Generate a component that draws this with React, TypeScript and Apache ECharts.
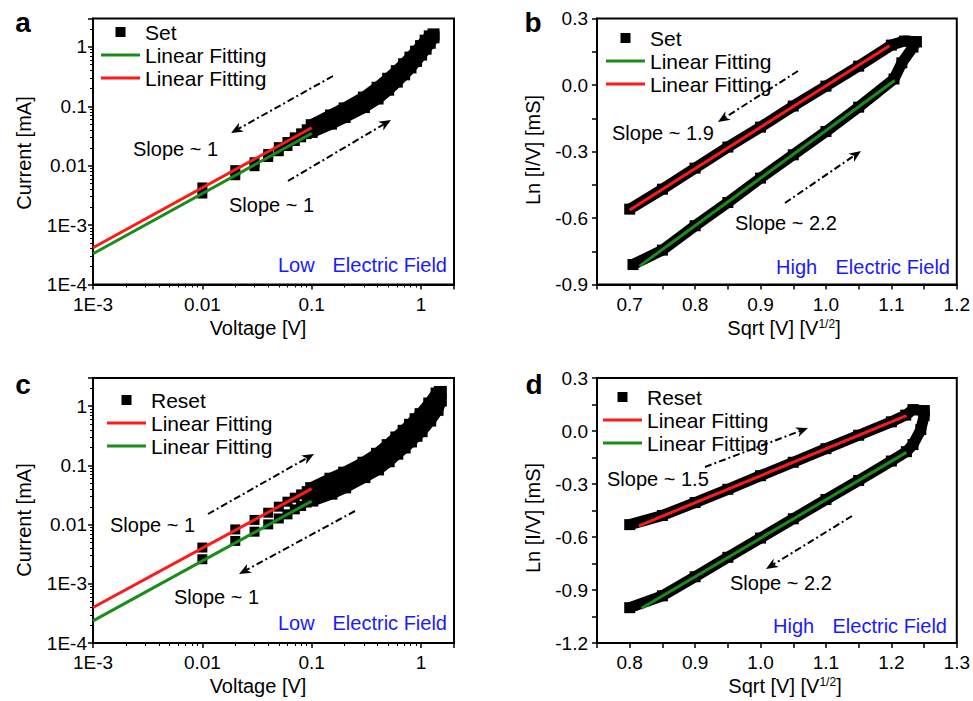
import { useEffect, useRef } from 'react';
import * as echarts from 'echarts';

const FONT = '"Liberation Sans", Arial, Helvetica, sans-serif';
const BLACK = '#000000';
const RED = '#ff1a1a';
const GREEN = '#1a8c1a';
const BLUE = '#1a1aff';

// ---------- tick labels ----------
const logTickValues = [1e-4, 1e-3, 0.01, 0.1, 1];
const logTickLabels = ['1E-4', '1E-3', '0.01', '0.1', '1'];
const bXTickLabels = ['0.7', '0.8', '0.9', '1.0', '1.1', '1.2'];
const bYTickLabels = ['0.3', '0.0', '-0.3', '-0.6', '-0.9'];
const dXTickLabels = ['0.8', '0.9', '1.0', '1.1', '1.2', '1.3'];
const dYTickLabels = ['0.3', '0.0', '-0.3', '-0.6', '-0.9', '-1.2'];

// ---------- legend labels ----------
const legendLabelsA = ['Set', 'Linear Fitting', 'Linear Fitting'];
const legendLabelsB = ['Set', 'Linear Fitting', 'Linear Fitting'];
const legendLabelsC = ['Reset', 'Linear Fitting', 'Linear Fitting'];
const legendLabelsD = ['Reset', 'Linear Fitting', 'Linear Fitting'];

// ---------- panel a : Set, low field (V, mA) ----------
const aLowV = [0.01, 0.02, 0.03, 0.04, 0.05, 0.06, 0.07, 0.08, 0.09];
const aLowUpperI = [0.0043, 0.0084, 0.0114, 0.0157, 0.0205, 0.025, 0.03, 0.035, 0.041];
const aLowLowerI = [0.0034, 0.0069, 0.0098, 0.014, 0.0175, 0.0214, 0.026, 0.03, 0.034];
const aBandV = [0.1, 0.15, 0.2, 0.3, 0.4, 0.5, 0.6, 0.7, 0.8, 0.9, 1.0, 1.1, 1.2, 1.3];
const aBandUpperI = [0.048, 0.07, 0.092, 0.14, 0.205, 0.29, 0.39, 0.51, 0.66, 0.83, 1.03, 1.27, 1.5, 1.62];
const aBandLowerI = [0.037, 0.051, 0.066, 0.097, 0.135, 0.19, 0.26, 0.345, 0.45, 0.58, 0.74, 0.93, 1.17, 1.45];
const aFitV = [0.001, 0.1];
const aFitGreenI = [3.3e-4, 0.0349];
const aFitRedI = [4.16e-4, 0.0435];

// ---------- panel c : Reset, low field ----------
const cLowV = [0.01, 0.02, 0.03, 0.04, 0.05, 0.06, 0.07, 0.08, 0.09];
const cLowUpperI = [0.0041, 0.0083, 0.012, 0.0159, 0.0201, 0.0244, 0.0285, 0.0324, 0.0368];
const cLowLowerI = [0.0026, 0.0053, 0.0076, 0.0101, 0.0127, 0.0149, 0.0181, 0.0206, 0.0236];
const cBandV = [0.1, 0.15, 0.2, 0.3, 0.4, 0.5, 0.6, 0.7, 0.8, 0.9, 1.0, 1.2, 1.4, 1.5];
const cBandUpperI = [0.0405, 0.0585, 0.074, 0.109, 0.154, 0.216, 0.291, 0.377, 0.476, 0.592, 0.72, 1.09, 1.61, 1.71];
const cBandLowerI = [0.026, 0.034, 0.0434, 0.0648, 0.0873, 0.12, 0.161, 0.205, 0.259, 0.323, 0.386, 0.585, 0.887, 1.27];
const cFitV = [0.001, 0.1];
const cFitRedI = [3.98e-4, 0.0405];
const cFitGreenI = [2.37e-4, 0.025];

// ---------- panel b : Set, high field (sqrt V, ln I/V) ----------
const bUpperX = [0.7, 0.75, 0.8, 0.85, 0.9, 0.95, 1.0, 1.05, 1.1, 1.12, 1.138];
const bUpperY = [-0.56, -0.47, -0.375, -0.28, -0.19, -0.095, -0.005, 0.085, 0.18, 0.198, 0.195];
const bLowerX = [0.705, 0.75, 0.8, 0.85, 0.9, 0.95, 1.0, 1.05, 1.104, 1.116, 1.133, 1.138];
const bLowerY = [-0.81, -0.745, -0.635, -0.53, -0.42, -0.315, -0.21, -0.1, 0.027, 0.1, 0.171, 0.195];
const bFitGreenX = [0.715, 1.105];
const bFitGreenY = [-0.817, 0.02];
const bFitRedX = [0.7, 1.097];
const bFitRedY = [-0.564, 0.177];

// ---------- panel d : Reset, high field ----------
const dUpperX = [0.8, 0.85, 0.9, 0.95, 1.0, 1.05, 1.1, 1.15, 1.2, 1.222, 1.233, 1.25];
const dUpperY = [-0.53, -0.478, -0.405, -0.33, -0.253, -0.177, -0.1, -0.024, 0.052, 0.09, 0.121, 0.115];
const dLowerX = [0.8, 0.85, 0.9, 0.95, 1.0, 1.05, 1.1, 1.15, 1.2, 1.223, 1.233, 1.245, 1.25, 1.25];
const dLowerY = [-1.0, -0.933, -0.825, -0.715, -0.606, -0.497, -0.388, -0.28, -0.17, -0.117, -0.077, 0.008, 0.087, 0.115];
const dFitRedX = [0.814, 1.223];
const dFitRedY = [-0.537, 0.087];
const dFitGreenX = [0.818, 1.223];
const dFitGreenY = [-1.003, -0.121];

const pairs = (xs: number[], ys: number[]) => xs.map((x, i) => [x, ys[i]]);

const logFmt = (v: number) => {
  const i = logTickValues.findIndex((t) => Math.abs(Math.log10(v) - Math.log10(t)) < 1e-6);
  return i >= 0 ? logTickLabels[i] : '';
};
const linFmt = (labels: string[]) => (v: number) => {
  const s = Math.abs(v) < 1e-9 ? '0.0' : v.toFixed(1);
  return labels.includes(s) && Math.abs(v - parseFloat(s)) < 1e-6 ? s : '';
};

const SQ_ICON = 'path://M0,0L10,0L10,10L0,10Z';
const LINE_ICON = 'path://M0,0L39,0L39,3L0,3Z';

function axisBase(gi: number) {
  return {
    gridIndex: gi,
    axisLine: { show: true, onZero: false, lineStyle: { color: BLACK, width: 2 } },
    axisTick: { show: true, inside: false, length: 5, lineStyle: { color: BLACK, width: 1.5 } },
    splitLine: { show: false },
  };
}
function logAxis(gi: number, min: number, max: number, margin: number) {
  return {
    ...axisBase(gi),
    type: 'log',
    logBase: 10,
    min,
    max,
    minorTick: { show: true, splitNumber: 9, length: 3, lineStyle: { color: BLACK, width: 1 } },
    minorSplitLine: { show: false },
    axisLabel: { formatter: logFmt, showMaxLabel: false, margin, color: BLACK, fontSize: 19, fontFamily: FONT },
  };
}
function linAxis(gi: number, min: number, max: number, interval: number, labels: string[], margin: number) {
  return {
    ...axisBase(gi),
    type: 'value',
    min,
    max,
    interval,
    axisLabel: { formatter: linFmt(labels), margin, color: BLACK, fontSize: 19, fontFamily: FONT, showMaxLabel: true, showMinLabel: true },
  };
}

function band(name: string, gi: number, xs: number[], ys: number[], w: number) {
  return {
    type: 'line', name, xAxisIndex: gi, yAxisIndex: gi, data: pairs(xs, ys),
    symbol: 'rect', symbolSize: w, showSymbol: true, silent: true,
    lineStyle: { color: BLACK, width: w, join: 'round', opacity: 1 },
    itemStyle: { color: BLACK, opacity: 1 }, z: 2,
  };
}
function dots(name: string, gi: number, pts: number[][]) {
  return {
    type: 'scatter', name, xAxisIndex: gi, yAxisIndex: gi, data: pts,
    symbol: 'rect', symbolSize: 10, itemStyle: { color: BLACK, opacity: 1 }, silent: true, z: 3,
  };
}
function fit(name: string, gi: number, xs: number[], ys: number[], color: string) {
  return {
    type: 'line', name, xAxisIndex: gi, yAxisIndex: gi, data: pairs(xs, ys),
    symbol: 'none', lineStyle: { color, width: 3 }, itemStyle: { color }, silent: true, z: 5,
  };
}
function legend(names: string[], labels: string[], left: number, top: number) {
  return {
    orient: 'vertical', left, top, padding: 0, itemGap: 1, itemWidth: 39, itemHeight: 10,
    selectedMode: false, symbolKeepAspect: true,
    itemStyle: { borderWidth: 0, opacity: 1 },
    data: names.map((n, i) => ({ name: n, icon: i === 0 ? SQ_ICON : LINE_ICON })),
    formatter: (n: string) => labels[names.indexOf(n)],
    textStyle: { fontSize: 21, fontFamily: FONT, color: BLACK, lineHeight: 22 },
  };
}

function txt(text: string, x: number, y: number, opts: any = {}) {
  return {
    type: 'text', x, y, z: 20, rotation: opts.rotation || 0,
    style: {
      text, fill: opts.fill || BLACK, fontSize: opts.fontSize || 20, fontFamily: FONT,
      fontWeight: opts.bold ? 'bold' : 'normal',
      align: opts.align || 'left', verticalAlign: 'middle', rich: opts.rich,
    },
  };
}
function arrow(x1: number, y1: number, x2: number, y2: number) {
  const ang = Math.atan2(y2 - y1, x2 - x1);
  const L = 12;
  const W = 5;
  const bx = x2 - L * Math.cos(ang);
  const by = y2 - L * Math.sin(ang);
  const nx = -Math.sin(ang);
  const ny = Math.cos(ang);
  const mx = x2 - L * 0.7 * Math.cos(ang);
  const my = y2 - L * 0.7 * Math.sin(ang);
  return [
    { type: 'line', z: 20, shape: { x1, y1, x2: mx, y2: my }, style: { stroke: BLACK, lineWidth: 2, lineDash: [7, 3, 2, 3] } },
    {
      type: 'polygon', z: 20,
      shape: { points: [[x2, y2], [bx + nx * W, by + ny * W], [mx, my], [bx - nx * W, by - ny * W]] },
      style: { fill: BLACK },
    },
  ];
}

function buildOption() {
  const supRich = { sup: { fontSize: 12, fontFamily: FONT, verticalAlign: 'top', fill: BLACK } };
  return {
    animation: false,
    backgroundColor: '#ffffff',
    grid: [
      { left: 93, top: 18.5, width: 361, height: 266, show: true, borderColor: BLACK, borderWidth: 2 },
      { left: 597, top: 18.5, width: 361, height: 266, show: true, borderColor: BLACK, borderWidth: 2 },
      { left: 93, top: 378, width: 361, height: 265, show: true, borderColor: BLACK, borderWidth: 2 },
      { left: 597, top: 378, width: 361, height: 265, show: true, borderColor: BLACK, borderWidth: 2 },
    ],
    xAxis: [
      logAxis(0, 1e-3, 2, 10),
      linAxis(1, 0.65, 1.2, 0.05, bXTickLabels, 10),
      logAxis(2, 1e-3, 2, 10),
      linAxis(3, 0.75, 1.3, 0.05, dXTickLabels, 10),
    ],
    yAxis: [
      logAxis(0, 1e-4, 3, 6),
      linAxis(1, -0.9, 0.3, 0.15, bYTickLabels, 9),
      logAxis(2, 1e-4, 3, 6),
      linAxis(3, -1.2, 0.3, 0.15, dYTickLabels, 9),
    ],
    legend: [
      legend(['SetA', 'fitGA', 'fitRA'], legendLabelsA, 101, 21),
      legend(['SetB', 'fitGB', 'fitRB'], legendLabelsB, 606, 27),
      legend(['ResetC', 'fitRC', 'fitGC'], legendLabelsC, 107, 389),
      legend(['ResetD', 'fitRD', 'fitGD'], legendLabelsD, 603, 386),
    ],
    series: [
      // a
      band('bandUpA', 0, aBandV, aBandUpperI, 12),
      band('bandLowA', 0, aBandV, aBandLowerI, 12),
      dots('SetA', 0, [...pairs(aLowV, aLowUpperI), ...pairs(aLowV, aLowLowerI)]),
      fit('fitGA', 0, aFitV, aFitGreenI, GREEN),
      fit('fitRA', 0, aFitV, aFitRedI, RED),
      // b
      band('SetB', 1, bUpperX, bUpperY, 11),
      band('bandLowB', 1, bLowerX, bLowerY, 11),
      fit('fitGB', 1, bFitGreenX, bFitGreenY, GREEN),
      fit('fitRB', 1, bFitRedX, bFitRedY, RED),
      // c
      band('bandUpC', 2, cBandV, cBandUpperI, 13),
      band('bandLowC', 2, cBandV, cBandLowerI, 13),
      dots('ResetC', 2, [...pairs(cLowV, cLowUpperI), ...pairs(cLowV, cLowLowerI)]),
      fit('fitRC', 2, cFitV, cFitRedI, RED),
      fit('fitGC', 2, cFitV, cFitGreenI, GREEN),
      // d
      band('ResetD', 3, dUpperX, dUpperY, 11),
      band('bandLowD', 3, dLowerX, dLowerY, 11),
      fit('fitRD', 3, dFitRedX, dFitRedY, RED),
      fit('fitGD', 3, dFitGreenX, dFitGreenY, GREEN),
    ],
    graphic: [
      // panel letters
      txt('a', 23, 22, { fontSize: 28, bold: true, align: 'center' }),
      txt('b', 533, 22, { fontSize: 28, bold: true, align: 'center' }),
      txt('c', 23, 384, { fontSize: 28, bold: true, align: 'center' }),
      txt('d', 534, 384, { fontSize: 28, bold: true, align: 'center' }),
      // axis names
      txt('Current [mA]', 24, 153, { align: 'center', rotation: Math.PI / 2 }),
      txt('Voltage [V]', 258, 328, { align: 'center' }),
      txt('Ln [I/V] [mS]', 533, 150, { align: 'center', rotation: Math.PI / 2 }),
      txt('Sqrt [V] [V{sup|1/2}]', 784, 328, { align: 'center', rich: supRich }),
      txt('Current [mA]', 24, 520, { align: 'center', rotation: Math.PI / 2 }),
      txt('Voltage [V]', 258, 686, { align: 'center' }),
      txt('Ln [I/V] [mS]', 533, 518, { align: 'center', rotation: Math.PI / 2 }),
      txt('Sqrt [V] [V{sup|1/2}]', 785, 686, { align: 'center', rich: supRich }),
      // annotations a
      txt('Slope ~ 1', 133, 149),
      txt('Slope ~ 1', 229, 205),
      txt('Low', 278, 265, { fill: BLUE }),
      txt('Electric Field', 447, 265, { fill: BLUE, align: 'right' }),
      // annotations b
      txt('Slope ~ 1.9', 612, 133),
      txt('Slope ~ 2.2', 735, 223),
      txt('High', 776, 267, { fill: BLUE }),
      txt('Electric Field', 950, 267, { fill: BLUE, align: 'right' }),
      // annotations c
      txt('Slope ~ 1', 110, 525),
      txt('Slope ~ 1', 174, 597),
      txt('Low', 278, 623, { fill: BLUE }),
      txt('Electric Field', 447, 623, { fill: BLUE, align: 'right' }),
      // annotations d
      txt('Slope ~ 1.5', 607, 479),
      txt('Slope ~ 2.2', 730, 583),
      txt('High', 773, 626, { fill: BLUE }),
      txt('Electric Field', 947, 626, { fill: BLUE, align: 'right' }),
      // arrows
      ...arrow(333, 76, 231, 133),
      ...arrow(288, 181, 391, 120),
      ...arrow(798, 71, 718, 122),
      ...arrow(785, 203, 861, 151),
      ...arrow(208, 514, 314, 454),
      ...arrow(355, 511, 239, 574),
      ...arrow(705, 467, 808, 428),
      ...arrow(852, 516, 766, 569),
    ],
  };
}

export default function App() {
  const ref = useRef<HTMLDivElement>(null);
  useEffect(() => {
    if (!ref.current) return;
    const chart = echarts.init(ref.current, undefined, { renderer: 'svg' });
    chart.setOption(buildOption() as any);
    return () => chart.dispose();
  }, []);
  return (
    <div
      ref={ref}
      style={{ position: 'absolute', left: 0, top: 0, width: 973, height: 701, background: '#fff' }}
    />
  );
}
